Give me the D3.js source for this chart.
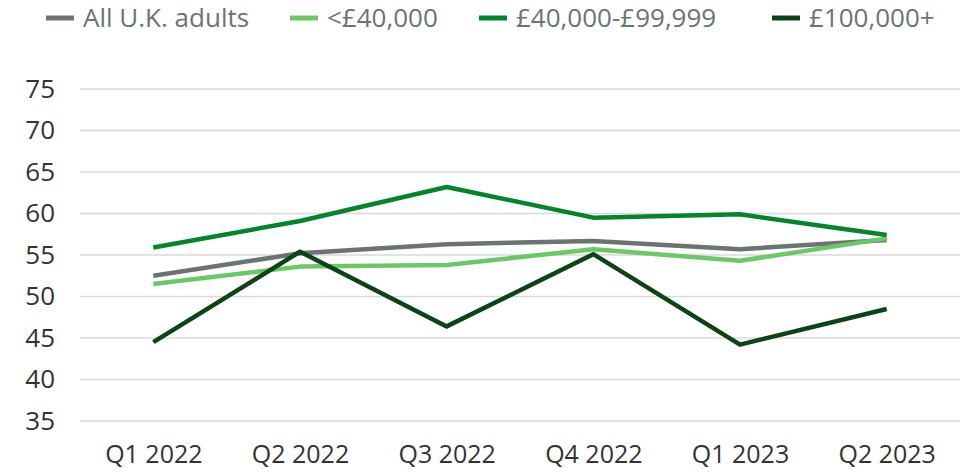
<!DOCTYPE html>
<html lang="en">
<head>
  <meta charset="UTF-8">
  <title>Line chart</title>
  <script src="https://d3js.org/d3.v7.min.js"></script>
  <style>
    body { margin: 0; background: #fff; }
    svg text { font-family: "Open Sans", "Lato", sans-serif; }
  </style>
</head>
<body>
<div id="chart"></div>
<script>
// quarters on the x axis
var quarters = ["Q1 2022", "Q2 2022", "Q3 2022", "Q4 2022", "Q1 2023", "Q2 2023"];
var yTicks = [35, 40, 45, 50, 55, 60, 65, 70, 75];

// series values
var allAdults = [52.5, 55.2, 56.3, 56.7, 55.7, 56.8];
var under40k  = [51.5, 53.6, 53.8, 55.7, 54.3, 57.0];
var mid40k    = [55.9, 59.1, 63.2, 59.5, 59.9, 57.4];
var over100k  = [44.5, 55.4, 46.4, 55.1, 44.2, 48.5];

var series = [
  {name: "All U.K. adults", values: allAdults, color: "#6b7472"},
  {name: "<£40,000", values: under40k, color: "#6cc867"},
  {name: "£40,000-£99,999", values: mid40k, color: "#00842c"},
  {name: "£100,000+", values: over100k, color: "#0e4318"}
];

var width = 972, height = 472;
var svg = d3.select("#chart").append("svg")
    .attr("width", width)
    .attr("height", height);

var x = d3.scalePoint().domain(quarters).range([80, 960]).padding(0.5);
var y = d3.scaleLinear().domain([35, 75]).range([421, 89]);

// gridlines
svg.append("g").selectAll("line")
    .data(yTicks)
    .enter().append("line")
    .attr("x1", 80).attr("x2", 960)
    .attr("y1", function(d) { return y(d); })
    .attr("y2", function(d) { return y(d); })
    .attr("stroke", "#d9d9d9")
    .attr("stroke-width", 1.5);

// y axis labels
var yAxis = svg.append("g")
    .attr("transform", "translate(80,0)")
    .call(d3.axisLeft(y).tickValues(yTicks).tickSize(0).tickPadding(25));
yAxis.select(".domain").remove();
yAxis.selectAll("text")
    .attr("fill", "#333")
    .style("font-size", "26px");

// x axis labels
var xAxis = svg.append("g")
    .attr("transform", "translate(0,421)")
    .call(d3.axisBottom(x).tickSize(0).tickPadding(24));
xAxis.select(".domain").remove();
xAxis.selectAll("text")
    .attr("fill", "#333")
    .style("font-size", "25px");

// lines
var line = d3.line()
    .x(function(d, i) { return x(quarters[i]); })
    .y(function(d) { return y(d); });

svg.append("g").selectAll("path")
    .data(series)
    .enter().append("path")
    .attr("d", function(d) { return line(d.values); })
    .attr("fill", "none")
    .attr("stroke", function(d) { return d.color; })
    .attr("stroke-width", 4.5)
    .attr("stroke-linejoin", "round");

// legend
var legendX = [46, 290, 479, 772];
var legend = svg.selectAll(".legend")
    .data(series)
    .enter().append("g")
    .attr("class", "legend")
    .attr("transform", function(d, i) { return "translate(" + legendX[i] + ",18)"; });

legend.append("line")
    .attr("x1", 0).attr("x2", 28)
    .attr("stroke", function(d) { return d.color; })
    .attr("stroke-width", 5);

legend.append("text")
    .attr("x", 37)
    .attr("dy", "0.35em")
    .attr("fill", "#6b7472")
    .style("font-size", "26px")
    .text(function(d) { return d.name; });
</script>
</body>
</html>
